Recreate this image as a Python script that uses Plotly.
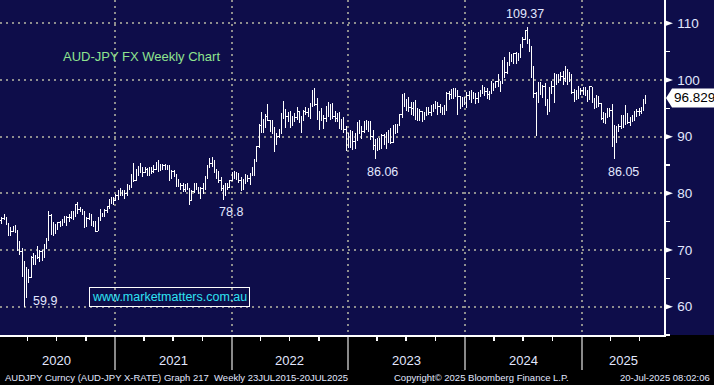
import pandas as pd
import plotly.graph_objects as go

# ---------------- data (weekly AUD/JPY bars) ----------------
close_2020 = [75.2,75.6,75.7,74.6,72.7,73.3,73.8,73.4,70.0,69.7,66.6,62.2,66.5,65.1,68.6,68.3,68.6,68.6,69.8,68.6,70.4,71.8,76.0,73.6,73.3,73.7,74.8,74.6,75.0,75.3,75.7,75.7,76.2,75.9,78.0,77.2,77.3,76.5,74.2,75.6,76.3,74.7,75.0,73.3,75.6,76.2,76.0,76.9,77.7,78.6,78.9,78.7]
high_2020  = [76.2,75.9,76.3,75.8,74.8,74.0,74.2,74.4,73.4,71.6,70.3,68.0,67.0,66.7,69.0,69.5,69.2,70.7,70.0,70.0,71.0,72.1,76.8,76.3,75.0,74.5,74.9,75.1,75.4,76.0,76.0,76.4,76.8,76.8,78.2,78.5,77.6,77.1,76.8,75.9,76.6,76.2,75.2,75.2,75.8,77.2,76.5,77.2,77.8,79.0,79.3,79.3]
low_2020   = [74.9,74.6,75.3,74.4,72.4,72.5,73.1,73.0,69.9,69.2,65.2,59.9,61.5,64.2,65.1,67.4,67.4,68.4,67.9,68.1,68.8,70.2,71.6,72.6,72.5,72.8,73.5,74.0,74.3,74.7,74.3,75.0,75.5,75.3,75.8,76.3,76.7,76.2,73.9,74.0,75.3,74.3,74.1,73.1,73.3,75.1,75.8,75.9,76.6,77.3,78.2,78.0]

close_2021 = [79.7,80.3,80.1,80.0,80.0,81.3,81.3,83.0,82.3,83.7,84.2,84.4,83.6,84.2,83.6,84.3,83.8,84.2,85.4,84.7,84.5,84.9,84.8,84.5,82.8,83.9,83.1,82.3,81.4,81.3,80.6,81.4,80.9,78.8,80.4,81.8,80.9,80.1,80.9,80.6,82.6,84.6,85.2,85.6,84.0,83.7,82.3,80.8,79.6,81.5,81.1,82.2,83.6]
high_2021  = [79.9,80.6,81.0,80.6,80.5,81.6,81.5,83.4,85.3,84.3,84.9,85.4,84.6,84.6,84.5,84.6,84.7,85.0,85.6,85.8,85.2,85.2,85.2,85.0,85.0,84.1,84.1,83.4,82.6,81.8,81.9,81.6,81.8,81.0,80.5,81.9,81.8,81.2,81.2,81.8,83.0,85.0,86.2,86.4,85.8,84.3,84.0,82.8,81.4,81.8,81.8,82.4,83.8]
low_2021   = [78.6,78.9,79.6,79.5,79.0,79.6,80.6,81.0,82.0,82.1,83.1,83.6,82.8,83.5,83.1,83.1,83.4,83.6,84.1,83.8,84.0,84.2,84.2,84.1,82.2,82.6,82.9,81.1,81.2,80.6,80.3,80.3,80.6,78.0,78.8,80.1,80.6,79.9,79.0,79.9,80.5,82.5,84.5,84.7,83.6,82.6,81.8,80.4,78.9,79.9,80.6,80.9,82.1]

close_2022 = [83.0,83.2,82.3,80.8,82.0,82.6,82.7,83.2,83.6,85.9,88.2,91.9,91.3,92.2,93.5,92.9,91.6,91.7,89.0,90.1,90.6,94.1,94.0,93.5,93.9,91.9,93.2,93.3,94.4,93.2,93.2,94.4,94.2,94.2,95.4,97.8,95.7,93.2,92.9,93.6,93.2,94.9,95.0,95.5,93.6,93.2,93.6,91.7,92.8,91.3,89.5,89.4]
high_2022  = [84.0,83.8,83.6,82.8,82.5,83.4,83.2,83.6,84.6,86.1,88.3,92.2,94.3,93.2,94.0,95.7,93.0,93.0,91.7,90.7,91.4,94.2,96.3,94.8,94.3,94.6,93.6,94.2,95.3,94.6,93.7,94.7,95.3,95.0,95.9,98.3,98.6,96.8,94.5,95.1,93.9,95.4,96.2,95.7,96.0,94.5,94.2,94.3,93.2,93.5,91.8,90.6]
low_2022   = [82.6,82.4,81.9,80.4,80.5,81.7,82.0,81.5,83.1,83.1,85.5,88.0,90.6,90.7,91.6,92.7,90.9,90.5,87.3,88.6,89.8,90.5,93.2,91.6,92.6,91.5,91.8,92.6,93.0,92.4,90.6,92.8,93.8,93.5,93.1,95.2,95.4,92.9,91.2,92.7,91.4,92.6,93.5,93.0,93.2,92.6,92.6,91.3,91.1,90.6,87.4,88.0]

close_2023 = [89.8,89.2,89.5,92.2,90.8,90.9,92.3,91.7,91.9,90.0,88.4,87.5,89.1,88.3,90.2,88.7,90.3,90.7,89.0,91.6,91.3,92.1,93.9,97.0,95.6,96.2,95.1,95.0,95.6,94.6,93.7,94.4,92.9,94.0,95.1,94.3,95.2,95.4,96.0,95.3,94.5,94.4,94.9,97.7,97.4,97.7,98.0,98.0,97.0,95.3,96.7,96.2]
high_2023  = [91.2,91.0,90.6,92.5,93.0,91.9,92.7,93.0,92.7,92.7,91.2,89.6,89.8,89.7,90.4,90.4,90.8,91.2,91.5,92.1,92.2,92.2,94.0,97.6,97.7,96.6,97.0,96.2,96.1,96.5,95.1,94.8,94.5,94.3,95.3,95.3,95.6,95.8,96.3,96.1,95.7,95.3,95.6,97.8,98.0,98.4,98.5,98.6,98.2,97.1,97.0,97.0]
low_2023   = [88.0,87.7,87.9,89.3,90.4,89.6,90.6,91.2,90.8,89.4,87.6,86.06,87.4,87.7,87.9,88.5,87.9,88.8,88.7,88.9,90.4,90.6,91.9,93.3,95.2,94.5,94.4,93.9,93.6,92.9,92.8,92.8,92.5,92.9,93.6,93.8,93.6,94.3,94.8,93.8,94.1,93.8,93.9,94.6,96.4,96.6,96.7,97.0,93.9,94.8,95.2,95.6]

close_2024 = [97.2,97.1,97.8,97.4,96.7,97.6,98.0,98.6,97.9,97.5,97.7,99.4,98.7,99.7,98.8,99.3,102.5,101.3,102.9,104.2,103.9,104.6,103.6,104.0,106.1,107.2,108.8,106.9,105.5,100.6,97.6,96.6,99.1,98.9,98.8,96.0,94.6,98.3,98.9,100.6,100.2,100.4,100.7,100.2,101.9,99.9,100.6,97.8,96.5,97.3,97.8,98.2]
high_2024  = [97.9,98.0,98.2,97.9,97.7,97.9,98.3,99.1,98.6,98.6,98.1,99.9,99.2,99.9,101.0,99.9,103.5,104.1,103.2,104.9,104.5,104.8,105.0,104.7,106.3,107.6,108.9,109.37,107.3,106.0,102.5,97.9,99.6,99.6,99.1,99.4,96.6,98.8,99.8,101.2,101.0,101.0,101.4,101.5,102.5,102.0,101.4,101.0,98.4,98.2,98.9,98.6]
low_2024   = [95.0,96.5,96.0,96.7,95.8,95.9,97.0,97.5,97.2,96.7,96.4,97.6,98.1,98.5,98.7,97.8,99.3,100.4,101.0,102.5,103.2,102.9,102.8,103.3,103.8,105.7,107.1,106.4,104.9,100.4,96.9,90.2,95.9,97.4,96.9,95.4,93.8,94.4,97.6,95.9,99.2,99.5,99.8,99.2,99.6,99.1,99.6,97.5,96.2,96.6,96.7,97.3]

close_2025 = [97.9,97.5,96.7,98.8,96.3,95.3,96.8,95.9,93.2,93.5,93.3,93.7,94.6,88.6,89.9,91.2,91.8,93.0,93.2,93.4,92.5,92.7,93.6,93.7,94.4,94.5,94.8,96.4,96.829]
high_2025  = [98.7,98.7,98.2,99.0,98.8,96.8,97.3,97.2,96.0,94.3,94.1,95.0,95.0,95.7,92.1,91.8,92.3,93.8,93.8,95.6,94.1,93.4,93.9,94.5,94.8,95.0,95.2,96.6,97.4]
low_2025   = [97.3,97.2,96.2,96.5,96.0,94.9,95.0,95.2,92.9,92.4,92.3,93.4,93.5,88.1,86.05,88.9,90.9,91.4,91.6,92.1,92.2,91.9,92.6,92.7,93.4,93.7,94.0,94.5,95.8]

first_open = 76.1

y_ticks = [60, 70, 80, 90, 100, 110]
year_starts = ["2021-01-01", "2022-01-01", "2023-01-01", "2024-01-01", "2025-01-01"]
quarter_ticks = ["2020-04-01", "2020-07-01", "2020-10-01", "2021-04-01", "2021-07-01", "2021-10-01",
                 "2022-04-01", "2022-07-01", "2022-10-01", "2023-04-01", "2023-07-01", "2023-10-01",
                 "2024-04-01", "2024-07-01", "2024-10-01", "2025-04-01", "2025-07-01"]
year_labels = ["2020", "2021", "2022", "2023", "2024", "2025"]
year_label_dates = ["2020-07-02", "2021-07-02", "2022-07-02", "2023-07-02", "2024-07-02", "2025-05-10"]

label_texts = ["109.37", "86.06", "86.05", "78.8", "59.9"]
label_dates = ["2024-07-06", "2023-04-18", "2025-05-12", "2021-12-29", "2020-05-25"]
label_values = [111.6, 83.8, 83.8, 76.7, 61.0]

# ---------------- assemble ----------------
closes = close_2020 + close_2021 + close_2022 + close_2023 + close_2024 + close_2025
highs = high_2020 + high_2021 + high_2022 + high_2023 + high_2024 + high_2025
lows = low_2020 + low_2021 + low_2022 + low_2023 + low_2024 + low_2025
opens = [first_open] + closes[:-1]
highs = [max(h, o, c) for h, o, c in zip(highs, opens, closes)]
lows = [min(l, o, c) for l, o, c in zip(lows, opens, closes)]
dates = pd.date_range("2020-01-05", periods=len(closes), freq="W-SUN")

NAVY = "#0e0d4a"
GRID = "#8e8e8e"
TXT = "#e2e8ff"
FONT = "Liberation Sans, Arial, sans-serif"
PW, PH = 664, 335  # plot area in px

fig = go.Figure()
fig.add_trace(go.Ohlc(
    x=dates, open=opens, high=highs, low=lows, close=closes,
    increasing=dict(line=dict(color="white", width=1)),
    decreasing=dict(line=dict(color="white", width=1)),
    tickwidth=0.35, hoverinfo="skip", showlegend=False,
))

shapes = [
    dict(type="rect", xref="paper", yref="paper", x0=1, x1=1.1, y0=0, y1=1,
         fillcolor=NAVY, line=dict(width=0), layer="below"),
]
# right-axis triangle markers
tri_h = 3.0 * (114.11 - 55.0) / PH
tri_w = 9.0 / PW
for v in y_ticks:
    shapes.append(dict(type="path", xref="paper", yref="y",
                       path=f"M 1.001,{v - tri_h} L {1 + tri_w},{v} L 1.001,{v + tri_h} Z",
                       fillcolor="white", line=dict(width=0), layer="above"))
# last price box
last = closes[-1]
bh = 9.5 * (114.11 - 55.0) / PH
shapes.append(dict(type="path", xref="paper", yref="y",
                   path=(f"M {1 + 2/PW},{last} L {1 + 8/PW},{last + bh} L {1 + 60/PW},{last + bh} "
                         f"L {1 + 60/PW},{last - bh} L {1 + 8/PW},{last - bh} Z"),
                   fillcolor="white", line=dict(color="white", width=0), layer="above"))

annotations = [
    dict(text="AUD-JPY FX Weekly Chart", xref="paper", yref="paper", x=61/PW, y=1 - 57/PH,
         xanchor="left", yanchor="middle", showarrow=False,
         font=dict(family=FONT, size=13, color="#8fe38f")),
    dict(text="www.marketmatters.com.au", xref="paper", yref="paper", x=169/PW, y=1 - 296.5/PH,
         xanchor="center", yanchor="middle", showarrow=False, bordercolor="white", borderwidth=1,
         borderpad=2, font=dict(family=FONT, size=12.5, color="#2fe3f2")),
    dict(text=f"{last:.3f}", xref="paper", yref="y", x=1 + 8/PW, y=last, xanchor="left",
         yanchor="middle", showarrow=False, font=dict(family=FONT, size=13.5, color="black")),
    dict(text="AUDJPY Curncy (AUD-JPY X-RATE) Graph 217  Weekly 23JUL2015-20JUL2025",
         xref="paper", yref="paper", x=3/PW, y=-43/PH, xanchor="left", yanchor="middle",
         showarrow=False, font=dict(family=FONT, size=9.5, color=TXT)),
    dict(text="Copyright\u00a9 2025 Bloomberg Finance L.P.", xref="paper", yref="paper", x=392/PW,
         y=-43/PH, xanchor="left", yanchor="middle", showarrow=False,
         font=dict(family=FONT, size=9.5, color=TXT)),
    dict(text="20-Jul-2025 08:02:06", xref="paper", yref="paper", x=712/PW, y=-43/PH,
         xanchor="right", yanchor="middle", showarrow=False, font=dict(family=FONT, size=9.5, color=TXT)),
]
for t, d in zip(year_labels, year_label_dates):
    annotations.append(dict(text=t, xref="x", yref="paper", x=d, y=-26/PH, xanchor="center",
                            yanchor="middle", showarrow=False, font=dict(family=FONT, size=13, color=TXT)))
for t, d, v in zip(label_texts, label_dates, label_values):
    annotations.append(dict(text=t, xref="x", yref="y", x=d, y=v, xanchor="center", yanchor="middle",
                            showarrow=False, font=dict(family=FONT, size=12.5, color=TXT)))

fig.update_layout(
    width=714, height=385, margin=dict(l=0, r=50, t=0, b=50, pad=0),
    paper_bgcolor="black", plot_bgcolor=NAVY, showlegend=False,
    shapes=shapes, annotations=annotations,
    xaxis=dict(
        type="date", range=["2020-01-05 21:00", "2025-09-15 07:00"],
        tickmode="array", tickvals=year_starts, showticklabels=False,
        ticks="outside", ticklen=33, tickwidth=2, tickcolor="#8a8a8a",
        showgrid=True, gridcolor=GRID, gridwidth=2, griddash="2px,4px",
        showline=True, linecolor="white", linewidth=2, zeroline=False,
        minor=dict(tickmode="array", tickvals=quarter_ticks, ticks="outside", ticklen=4,
                   tickcolor="white", tickwidth=1.5, showgrid=False),
        rangeslider=dict(visible=False), fixedrange=True,
    ),
    yaxis=dict(
        side="right", range=[55.0, 114.11], tickmode="array", tickvals=y_ticks,
        ticks="outside", ticklen=9, tickcolor="rgba(0,0,0,0)",
        tickfont=dict(family=FONT, size=13.5, color=TXT),
        showgrid=True, gridcolor=GRID, gridwidth=2, griddash="2px,4px",
        showline=True, linecolor="white", linewidth=1.5, zeroline=False,
        minor=dict(dtick=5, ticks="outside", ticklen=4, tickcolor="white", tickwidth=1.5, showgrid=False),
        fixedrange=True,
    ),
)

fig.write_html(
    "out.html",
    config={"displayModeBar": False, "staticPlot": True},
    post_script=(
        "document.body.style.margin='0';document.body.style.overflow='hidden';"
        "document.querySelectorAll('.ohlc path').forEach(function(p){p.style.shapeRendering='crispEdges';});"
    ),
)
